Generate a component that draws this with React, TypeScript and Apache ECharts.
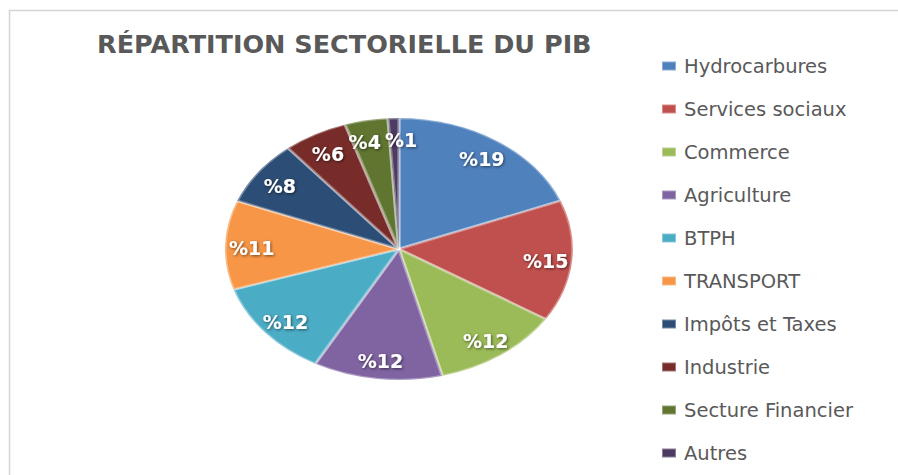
import React, { useEffect, useRef } from "react";
import * as echarts from "echarts";

const titleText = "RÉPARTITION SECTORIELLE DU PIB";
const categories = [
  "Hydrocarbures",
  "Services sociaux",
  "Commerce",
  "Agriculture",
  "BTPH",
  "TRANSPORT",
  "Impôts et Taxes",
  "Industrie",
  "Secture Financier",
  "Autres",
];
const shares = [19, 15, 12, 12, 12, 11, 8, 6, 4, 1];
const colors = [
  "#4F81BD",
  "#C0504D",
  "#9BBB59",
  "#8064A2",
  "#4BACC6",
  "#F79646",
  "#2C4D75",
  "#772C2A",
  "#5F7530",
  "#4D3B62",
];

const CX = 399;
const CY = 249;
const RY = 131;
const SX = 174 / 131;
const LABEL_PUSH = 1.62;
const LABEL_GAP = 4;

type Box = { x: number; y: number; w: number; h: number };

function resolveOverlaps(boxes: Box[]) {
  for (let iter = 0; iter < 30; iter++) {
    let moved = false;
    for (let i = 0; i < boxes.length; i++) {
      for (let j = i + 1; j < boxes.length; j++) {
        const a = boxes[i];
        const b = boxes[j];
        if (!a || !b) continue;
        const dx = b.x - a.x;
        const dy = b.y - a.y;
        const needX = (a.w + b.w) / 2 + LABEL_GAP - Math.abs(dx);
        const needY = (a.h + b.h) / 2 - Math.abs(dy);
        if (needX > 0 && needY > 0) {
          const dir = dx >= 0 ? 1 : -1;
          a.x -= (dir * needX) / 2;
          b.x += (dir * needX) / 2;
          moved = true;
        }
      }
    }
    if (!moved) break;
  }
}

export default function App() {
  const ref = useRef<HTMLDivElement>(null);
  useEffect(() => {
    if (!ref.current) return;
    const chart = echarts.init(ref.current, null, { renderer: "svg" });
    const data = categories.map((name, i) => ({ name, value: shares[i] }));
    const boxes: Box[] = [];
    const collect = (p: any) => {
      const r = p.labelRect;
      const mx = r.x + r.width / 2;
      const my = r.y + r.height / 2;
      const x = CX + (mx - CX) * LABEL_PUSH * SX;
      const y = CY + (my - CY) * LABEL_PUSH + 2;
      boxes[p.dataIndex] = { x, y, w: r.width, h: r.height * 0.8 };
      return { x, y, align: "center", verticalAlign: "middle" };
    };
    chart.setOption({
      animation: false,
      backgroundColor: "#ffffff",
      color: colors,
      title: {
        text: titleText,
        left: 97,
        top: 31,
        padding: 0,
        textStyle: {
          fontFamily: "DejaVu Sans",
          fontWeight: "bold",
          fontSize: 25.5,
          color: "#595959",
        },
      },
      legend: {
        orient: "vertical",
        left: 661,
        top: 56,
        padding: 0,
        icon: "rect",
        itemWidth: 14,
        itemHeight: 9,
        itemGap: 23,
        selectedMode: false,
        textStyle: {
          fontFamily: "DejaVu Sans",
          fontSize: 19.5,
          lineHeight: 20,
          color: "#595959",
          padding: [0, 0, 0, 3],
        },
        data: categories,
      },
      graphic: [
        {
          type: "rect",
          shape: { x: 9.5, y: 10.5, width: 900, height: 480 },
          style: { fill: "none", stroke: "#d4d4d4", lineWidth: 1.5 },
          silent: true,
        },
      ],
      series: [
        {
          type: "pie",
          center: [CX, CY],
          radius: [0, RY],
          startAngle: 90,
          clockwise: true,
          avoidLabelOverlap: false,
          data,
          itemStyle: {
            borderColor: "rgba(255,255,255,0.35)",
            borderWidth: 2.5,
          },
          label: {
            show: true,
            position: "inside",
            formatter: "%{c}",
            color: "#ffffff",
            fontFamily: "DejaVu Sans",
            fontWeight: "bold",
            fontSize: 19,
            textShadowColor: "rgba(0,0,0,0.55)",
            textShadowBlur: 3,
            textShadowOffsetX: 1,
            textShadowOffsetY: 1,
          },
          labelLine: { show: false },
          labelLayout: collect,
          emphasis: { disabled: true },
        },
      ],
    });
    // spread apart the labels of the thin neighbouring slices
    resolveOverlaps(boxes);
    chart.setOption({
      series: [
        {
          labelLayout: (p: any) => {
            const b = boxes[p.dataIndex];
            return { x: b.x, y: b.y, align: "center", verticalAlign: "middle" };
          },
        },
      ],
    });
    // stretch the pie horizontally to reproduce the elliptical (tilted) look
    const zr: any = chart.getZr();
    const roots: any[] = zr.storage.getRoots();
    roots.forEach((root) => {
      let hasSector = false;
      if (root.traverse) {
        root.traverse((c: any) => {
          if (c.type === "sector") hasSector = true;
        });
      }
      if (hasSector) {
        root.originX = CX;
        root.originY = CY;
        root.scaleX = SX;
        root.markRedraw && root.markRedraw();
        root.traverse((c: any) => c.markRedraw && c.markRedraw());
      }
    });
    zr.refreshImmediately();
    return () => chart.dispose();
  }, []);
  return (
    <div
      ref={ref}
      style={{ position: "absolute", left: 0, top: 0, width: 898, height: 475 }}
    />
  );
}
